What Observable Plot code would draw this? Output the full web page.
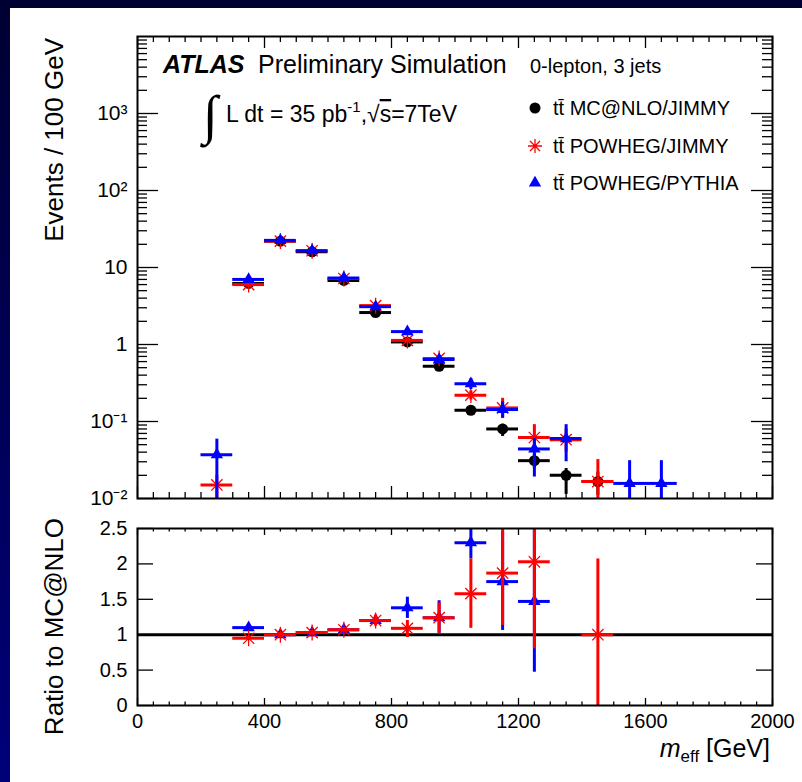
<!DOCTYPE html>
<html><head><meta charset="utf-8">
<script src="https://cdn.jsdelivr.net/npm/d3@7"></script>
<script src="https://cdn.jsdelivr.net/npm/@observablehq/plot@0.6"></script>
<style>
body{margin:0;background:#fff;}
#page{position:relative;width:802px;height:782px;background:linear-gradient(#000033,#00007a);overflow:hidden;font-family:"Liberation Sans",Arial,sans-serif;}
#inner{position:absolute;left:10px;top:8px;right:0;bottom:0;background:#fff;}
#upper,#lower,#overlay{position:absolute;left:0;}
#upper{top:0;} #lower{top:510px;} #overlay{top:0;pointer-events:none;}
</style></head>
<body>
<div id="page"><div id="inner"></div><div id="upper"></div><div id="lower"></div>
<svg id="overlay" width="802" height="782" font-family="Liberation Sans, Arial, sans-serif">
  <text x="163" y="73" font-size="25" font-weight="bold" font-style="italic">ATLAS</text>
  <text x="258" y="73" font-size="25">Preliminary Simulation</text>
  <text x="530" y="73" font-size="20">0-lepton, 3 jets</text>
  <text x="203" y="133" font-size="54" font-family="DejaVu Sans" font-weight="300">∫</text>
  <text x="226" y="122" font-size="23">L dt = 35 pb<tspan font-size="15" dy="-10">-1</tspan><tspan dy="10">,√</tspan><tspan text-decoration="overline">s</tspan>=7TeV</text>
  <g id="legend"></g>
  <text transform="translate(63,38) rotate(-90)" text-anchor="end" font-size="26">Events / 100 GeV</text>
  <text transform="translate(63,518) rotate(-90)" text-anchor="end" font-size="26">Ratio to MC@NLO</text>
  <text x="770" y="757" text-anchor="end" font-size="25"><tspan font-style="italic">m</tspan><tspan font-size="17" dy="5">eff</tspan><tspan dy="-5"> [GeV]</tspan></text>
</svg>
</div>
<script>
// ---- data ----
const binCenters = [250,350,450,550,650,750,850,950,1050,1150,1250,1350,1450,1550,1650];
const binWidth = 100;
// Events / 100 GeV
const mcnlo   = [null, 6.2, 22, 16, 6.8, 2.6, 1.08, 0.52, 0.14, 0.08, 0.031, 0.020, 0.0166, null, null];
const mcnloHi = [null, 6.5, 23, 16.8, 7.1, 2.75, 1.15, 0.56, 0.155, 0.092, 0.038, 0.0245, 0.022, null, null];
const mcnloLo = [null, 5.9, 21, 15.2, 6.5, 2.45, 1.01, 0.48, 0.125, 0.064, 0.0245, 0.0113, 0.011, null, null];
const powJ    = [0.015, 6.0, 22, 16.5, 7.2, 3.2, 1.13, 0.66, 0.22, 0.15, 0.062, 0.058, 0.0166, null, null];
const powJHi  = [0.02, 6.3, 23, 17.2, 7.5, 3.4, 1.22, 0.72, 0.25, 0.2, 0.091, 0.08, 0.032, null, null];
const powJLo  = [0.005, 5.7, 21, 15.8, 6.9, 3.0, 1.05, 0.6, 0.19, 0.11, 0.04, 0.04, 0.005, null, null];
const powP    = [0.037, 7.0, 22.5, 16.5, 7.3, 3.1, 1.47, 0.64, 0.31, 0.143, 0.044, 0.060, null, 0.0157, 0.0157];
const powPHi  = [0.059, 7.3, 23.3, 17.2, 7.6, 3.3, 1.55, 0.69, 0.36, 0.18, 0.06, 0.091, null, 0.031, 0.031];
const powPLo  = [0.005, 6.7, 21.7, 15.8, 7.0, 2.9, 1.39, 0.59, 0.26, 0.11, 0.019, 0.03, null, 0.005, 0.005];
// Ratio to MC@NLO
const ratioP   = [null, 1.10, 1.00, 1.03, 1.07, 1.20, 1.38, 1.24, 2.30, 1.75, 1.47, null, null, null, null];
const ratioPHi = [null, 1.14, 1.03, 1.06, 1.10, 1.26, 1.53, 1.48, 2.6, 2.45, 2.6, null, null, null, null];
const ratioPLo = [null, 1.06, 0.97, 1.00, 1.04, 1.14, 1.23, 1.02, 2.07, 1.06, 0.47, null, null, null, null];
const ratioJ   = [null, 0.95, 1.00, 1.03, 1.07, 1.20, 1.09, 1.24, 1.58, 1.87, 2.03, null, 1.00, null, null];
const ratioJHi = [null, 0.98, 1.03, 1.06, 1.10, 1.28, 1.20, 1.45, 2.07, 2.6, 2.6, null, 2.07, null, null];
const ratioJLo = [null, 0.92, 0.97, 1.00, 1.04, 1.12, 0.96, 1.02, 1.09, 1.13, 0.80, null, 0, null, null];
// ticks and labels
const yMajorTicks = [0.01, 0.1, 1, 10, 100, 1000];
const yMajorLabels = ["10⁻²", "10⁻¹", "1", "10", "10²", "10³"];
const ratioTicks = [0, 0.5, 1, 1.5, 2, 2.5];
const ratioLabels = ["0", "0.5", "1", "1.5", "2", "2.5"];
const xTicks = [0, 400, 800, 1200, 1600, 2000];
const legendLabels = ["tt̄ MC@NLO/JIMMY", "tt̄ POWHEG/JIMMY", "tt̄ POWHEG/PYTHIA"];
const colors = ["black", "#ff0000", "#0000ff"];

// ---- helpers ----
const rows = (v, lo, hi) => binCenters.map((c, i) => ({c, v: v[i], lo: lo[i], hi: hi[i]})).filter(d => d.v != null);
const yMinor = [];
for (let e = -2; e <= 3; e++) for (let m = 2; m <= 9; m++) yMinor.push(m * 10 ** e);
const xMinor = d3.range(0, 2001, 50).filter(d => d % 400 !== 0);
const font = "Liberation Sans, Arial, sans-serif";

function series(data, color, kind) {
  const m = [
    Plot.ruleY(data, {y: "v", x1: d => d.c - binWidth / 2, x2: d => d.c + binWidth / 2, stroke: color, strokeWidth: 3, clip: true}),
    Plot.ruleX(data, {x: "c", y1: "lo", y2: "hi", stroke: color, strokeWidth: 3, clip: true})
  ];
  if (kind === "circle") m.push(Plot.dot(data, {x: "c", y: "v", r: 5.5, fill: color, clip: true}));
  if (kind === "triangle") m.push(Plot.dot(data, {x: "c", y: "v", r: 4.6, symbol: "triangle", fill: color, clip: true}));
  if (kind === "star") {
    m.push(Plot.dot(data, {x: "c", y: "v", r: 5.2, symbol: "plus", stroke: color, fill: "none", strokeWidth: 1.3, clip: true}));
    m.push(Plot.dot(data, {x: "c", y: "v", r: 5.2, symbol: "times", stroke: color, fill: "none", strokeWidth: 1.3, clip: true}));
  }
  return m;
}

function frameTicks(fw, fh, yMaj, yMin, yMajL, yMinL, xMajL, xMinL) {
  const s = {stroke: "black", strokeWidth: 1.3};
  const t = [
    Plot.tickY(yMaj, {y: d => d, insetRight: fw - yMajL, ...s}),
    Plot.tickY(yMaj, {y: d => d, insetLeft: fw - yMajL, ...s}),
    Plot.tickX(xTicks, {x: d => d, insetTop: fh - xMajL, ...s}),
    Plot.tickX(xTicks, {x: d => d, insetBottom: fh - xMajL, ...s}),
    Plot.tickX(xMinor, {x: d => d, insetTop: fh - xMinL, ...s}),
    Plot.tickX(xMinor, {x: d => d, insetBottom: fh - xMinL, ...s})
  ];
  if (yMin.length) {
    t.push(Plot.tickY(yMin, {y: d => d, insetRight: fw - yMinL, ...s}));
    t.push(Plot.tickY(yMin, {y: d => d, insetLeft: fw - yMinL, ...s}));
  }
  return t;
}

const W = 802, ML = 137, MR = 30;
const FW = W - ML - MR;

// ---- upper panel ----
const H1 = 510, MT1 = 36, MB1 = 12;
const upper = Plot.plot({
  width: W, height: H1, marginLeft: ML, marginRight: MR, marginTop: MT1, marginBottom: MB1,
  style: {background: "transparent", fontFamily: font, fontSize: "20px", color: "black", overflow: "visible"},
  x: {domain: [0, 2000], axis: null},
  y: {type: "log", domain: [0.01, 10000]},
  marks: [
    Plot.axisY(yMajorTicks, {tickSize: 0, tickPadding: 10, fontSize: 21, tickFormat: (d) => yMajorLabels[yMajorTicks.indexOf(d)], label: null}),
    ...frameTicks(FW, H1 - MT1 - MB1, yMajorTicks, yMinor, 21, 10, 12, 6),
    ...series(rows(mcnlo, mcnloLo, mcnloHi), colors[0], "circle"),
    ...series(rows(powJ, powJLo, powJHi), colors[1], "star"),
    ...series(rows(powP, powPLo, powPHi), colors[2], "triangle"),
    Plot.frame({stroke: "black", strokeWidth: 2})
  ]
});
document.getElementById("upper").append(upper);

// ---- lower panel ----
const H2 = 272, MT2 = 18, MB2 = 77;
const lower = Plot.plot({
  width: W, height: H2, marginLeft: ML, marginRight: MR, marginTop: MT2, marginBottom: MB2,
  style: {background: "transparent", fontFamily: font, fontSize: "20px", color: "black", overflow: "visible"},
  x: {domain: [0, 2000]},
  y: {domain: [0, 2.5]},
  marks: [
    Plot.axisY(ratioTicks, {tickSize: 0, tickPadding: 10, fontSize: 20, tickFormat: d => ratioLabels[ratioTicks.indexOf(d)], label: null}),
    Plot.axisX(xTicks, {tickSize: 0, tickPadding: 8, fontSize: 20, tickFormat: d => String(d), label: null}),
    ...frameTicks(FW, H2 - MT2 - MB2, ratioTicks, [], 16, 0, 7, 3.5),
    Plot.ruleY([1], {stroke: "black", strokeWidth: 3}),
    ...series(rows(ratioP, ratioPLo, ratioPHi), colors[2], "triangle"),
    ...series(rows(ratioJ, ratioJLo, ratioJHi), colors[1], "star"),
    Plot.frame({stroke: "black", strokeWidth: 2})
  ]
});
document.getElementById("lower").append(lower);

// ---- legend ----
const lg = d3.select("#legend");
const ly = [108, 146, 183];
legendLabels.forEach((txt, i) => {
  const g = lg.append("g").attr("transform", `translate(535,${ly[i]})`);
  if (i === 0) g.append("circle").attr("r", 5.5).attr("fill", colors[0]);
  if (i === 1) g.append("path").attr("d", "M-7,0H7M0,-7V7M-5,-5L5,5M-5,5L5,-5").attr("stroke", colors[1]).attr("stroke-width", 1.3);
  if (i === 2) g.append("path").attr("d", d3.symbol(d3.symbolTriangle, 4.6 * 4.6 * Math.PI)()).attr("fill", colors[2]);
  lg.append("text").attr("x", 553).attr("y", ly[i] + 7).attr("font-size", 20).text(txt);
});
</script>
</body></html>
